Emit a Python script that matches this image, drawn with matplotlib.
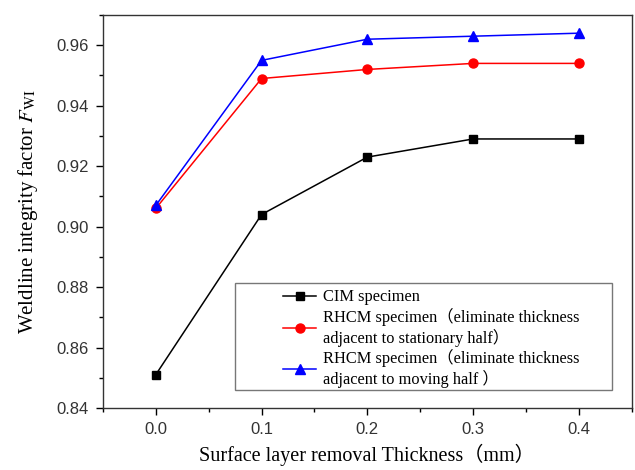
import matplotlib.pyplot as plt
from matplotlib.ticker import MultipleLocator
from matplotlib.patches import Rectangle

X = [0.0, 0.1, 0.2, 0.3, 0.4]
CIM = [0.851, 0.904, 0.923, 0.929, 0.929]            # black squares
RHCM_STAT = [0.906, 0.949, 0.952, 0.954, 0.954]      # red circles
RHCM_MOV = [0.907, 0.955, 0.962, 0.963, 0.964]       # blue triangles

LABELS = ["CIM specimen",
          "RHCM specimen（eliminate thickness\nadjacent to stationary half）",
          "RHCM specimen（eliminate thickness\nadjacent to moving half ）"]

plt.rcParams['mathtext.fontset'] = 'stix'
SERIF = ['Liberation Serif', 'Noto Sans CJK SC']
SANS = ['Liberation Sans']

fig = plt.figure(figsize=(6.35, 4.7), dpi=100)
ax = fig.add_axes([0.162, 0.132, 0.833, 0.836])

ax.plot(X, CIM, color='black', marker='s', markersize=5.5, lw=1.1, label=LABELS[0])
ax.plot(X, RHCM_STAT, color='red', marker='o', markersize=6.5, lw=1.1, label=LABELS[1])
ax.plot(X, RHCM_MOV, color='blue', marker='^', markersize=7, lw=1.1, label=LABELS[2])

ax.set_xlim(-0.05, 0.45)
ax.set_ylim(0.84, 0.97)
ax.xaxis.set_minor_locator(MultipleLocator(0.05))
ax.yaxis.set_minor_locator(MultipleLocator(0.01))
ax.set_xticks([0.0, 0.1, 0.2, 0.3, 0.4])
ax.set_xticklabels(['0.0', '0.1', '0.2', '0.3', '0.4'])
ax.set_yticks([0.84, 0.86, 0.88, 0.90, 0.92, 0.94, 0.96])
ax.set_yticklabels(['0.84', '0.86', '0.88', '0.90', '0.92', '0.94', '0.96'])
ax.tick_params(which='major', direction='out', length=5, width=1, labelsize=12, pad=5)
ax.tick_params(which='minor', direction='out', length=3, width=1)
for lab in ax.get_xticklabels() + ax.get_yticklabels():
    lab.set_family(SANS)
    lab.set_color('#333333')
for s in ax.spines.values():
    s.set_linewidth(1)
    s.set_color('#333333')

ax.set_xlabel("Surface layer removal Thickness（mm）", family=SERIF, fontsize=14.5, labelpad=5)
ax.set_ylabel("Weldline integrity factor $\\mathit{F}_{\\mathrm{WI}}$", family=SERIF, fontsize=15, labelpad=12)

# legend box is wider than its contents in the original
ax.add_patch(Rectangle((0.2495, 0.046), 0.7125, 0.272, transform=ax.transAxes, fill=False,
                       edgecolor='#777777', lw=1, zorder=5))
leg = ax.legend(loc='upper left', bbox_to_anchor=(0.335, 0.31), prop={'family': SERIF, 'size': 11.8},
                frameon=False, handlelength=2.0, handletextpad=0.4,
                labelspacing=0.15, borderpad=0.2, borderaxespad=0)

fig.savefig('out.png', dpi=100)
